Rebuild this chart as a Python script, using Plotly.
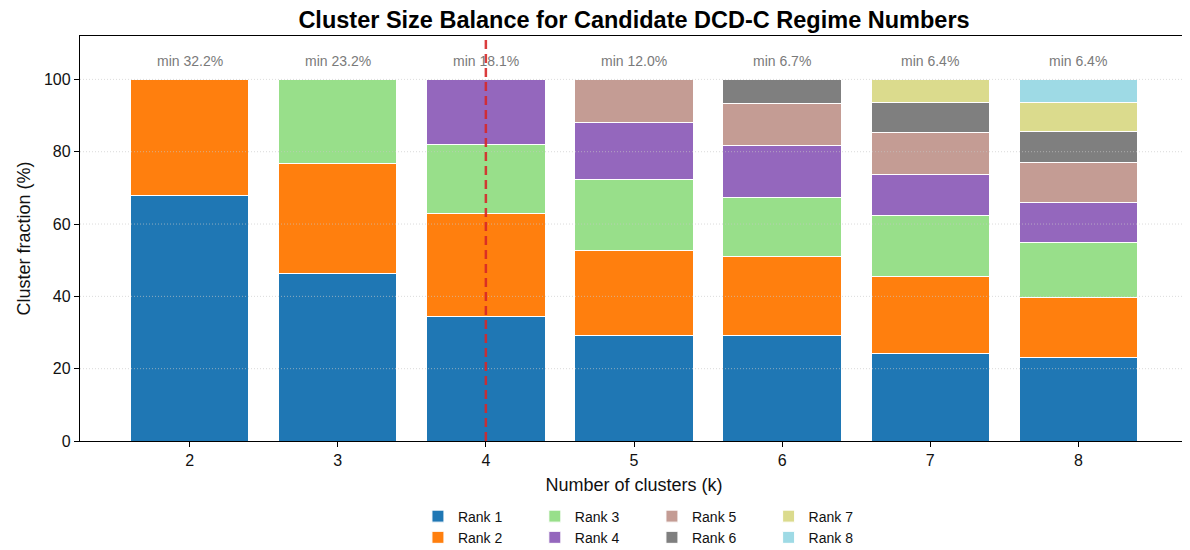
import plotly.graph_objects as go

# Cluster fractions (%) per candidate k, rank-sorted (largest first)
k_values = [2, 3, 4, 5, 6, 7, 8]
rank1 = [67.8, 46.4, 34.4, 29.2, 29.2, 24.3, 23.1]
rank2 = [32.2, 30.4, 28.5, 23.6, 21.9, 21.3, 16.5]
rank3 = [None, 23.2, 19.0, 19.6, 16.2, 16.7, 15.4]
rank4 = [None, None, 18.1, 15.6, 14.4, 11.5, 11.0]
rank5 = [None, None, None, 12.0, 11.6, 11.4, 11.1]
rank6 = [None, None, None, None, 6.7, 8.4, 8.5]
rank7 = [None, None, None, None, None, 6.4, 8.0]
rank8 = [None, None, None, None, None, None, 6.4]
min_labels = ["min 32.2%", "min 23.2%", "min 18.1%", "min 12.0%", "min 6.7%", "min 6.4%", "min 6.4%"]
chosen_k = 4
y_ticks = [0, 20, 40, 60, 80, 100]

ranks = [rank1, rank2, rank3, rank4, rank5, rank6, rank7, rank8]
names = ["Rank 1", "Rank 2", "Rank 3", "Rank 4", "Rank 5", "Rank 6", "Rank 7", "Rank 8"]
colors = ["#1f77b4", "#ff7f0e", "#98df8a", "#9467bd", "#c49c94", "#7f7f7f", "#dbdb8d", "#9edae5"]

FONT = "Liberation Sans, Arial, Helvetica, sans-serif"

fig = go.Figure()

# legends laid out column-wise: 2 ranks per legend box
legend_ids = ["legend", "legend", "legend2", "legend2", "legend3", "legend3", "legend4", "legend4"]

for vals, name, col, lg in zip(ranks, names, colors, legend_ids):
    fig.add_trace(go.Bar(
        x=k_values,
        y=vals,
        name=name,
        width=0.8,
        marker=dict(color=col, line=dict(color="white", width=1)),
        legend=lg,
    ))

# dotted grid drawn over the bars, like the original
for t in y_ticks[1:]:
    fig.add_shape(
        type="line", xref="x domain", x0=0, x1=1, y0=t, y1=t,
        line=dict(color="rgba(200,200,200,0.65)", width=1, dash="1px,2px"),
        layer="above",
    )

# min-share labels above each stack
for k, lab in zip(k_values, min_labels):
    fig.add_annotation(
        x=k, y=105.2, text=lab, showarrow=False,
        font=dict(family=FONT, size=14, color="#7a7a7a"),
        yanchor="middle",
    )

# selected k marker
fig.add_shape(
    type="line", x0=chosen_k, x1=chosen_k, y0=0, y1=1, yref="y domain",
    line=dict(color="rgba(214,39,40,0.9)", width=2.5, dash="9px,5px"),
    layer="above",
)

legend_common = dict(
    orientation="v", yanchor="top", xanchor="left", y=-0.147,
    font=dict(family=FONT, size=14, color="#111"),
    bgcolor="rgba(0,0,0,0)", tracegroupgap=0, itemwidth=30,
    traceorder="normal",
)

fig.update_layout(
    width=1190, height=550,
    barmode="stack",
    plot_bgcolor="white",
    paper_bgcolor="white",
    # page body adds an 8px offset, so margins are shifted by that amount
    margin=dict(l=72, r=10, t=28, b=117, autoexpand=False),
    font=dict(family=FONT, size=16, color="#111"),
    title=dict(
        text="<b>Cluster Size Balance for Candidate DCD-C Regime Numbers</b>",
        x=0.5, xref="paper", y=0.979, yref="container", xanchor="center", yanchor="middle",
        font=dict(family=FONT, size=23.5, color="#000"),
    ),
    legend=dict(x=0.305, **legend_common),
    legend2=dict(x=0.4105, **legend_common),
    legend3=dict(x=0.5162, **legend_common),
    legend4=dict(x=0.6215, **legend_common),
    xaxis=dict(
        range=[1.26, 8.74],
        tickvals=k_values,
        ticks="outside", ticklen=5, tickcolor="#000",
        showline=True, linecolor="#000", linewidth=1.3, mirror=True,
        showgrid=False, zeroline=False, automargin=False,
        title=dict(text="Number of clusters (k)", font=dict(size=18), standoff=10),
        tickfont=dict(size=16),
    ),
    yaxis=dict(
        range=[0, 112],
        tickvals=y_ticks,
        ticks="outside", ticklen=5, tickcolor="#000",
        showline=True, linecolor="#000", linewidth=1.3, mirror=True,
        showgrid=False, zeroline=False, automargin=False,
        title=dict(text="Cluster fraction (%)", font=dict(size=18), standoff=8),
        tickfont=dict(size=16),
    ),
)

fig.write_html("out.html")
